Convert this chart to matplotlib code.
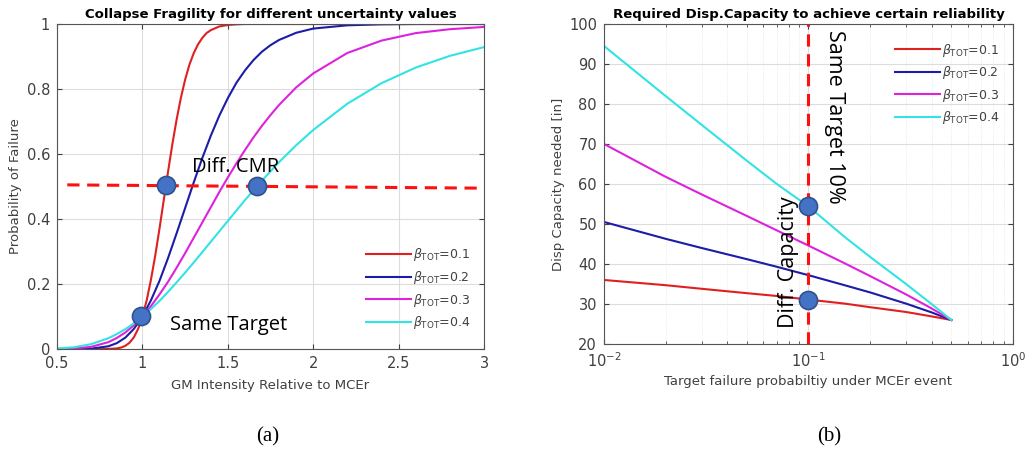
import matplotlib.pyplot as plt
from matplotlib.ticker import LogLocator, NullFormatter

# ---- data (a): collapse fragility ----
gm_red = [0.5, 0.6, 0.7, 0.8, 0.85, 0.875, 0.9, 0.925, 0.95, 0.975, 1.0, 1.025, 1.05, 1.075,
          1.1, 1.125, 1.15, 1.175, 1.2, 1.225, 1.25, 1.275, 1.3, 1.325, 1.35, 1.375, 1.4,
          1.45, 1.5, 1.55, 1.6, 1.8, 2.0, 2.5, 3.0]
pf_01 = [0.0, 0.0, 0.0, 0.0002, 0.0018, 0.0044, 0.0098, 0.0196, 0.036, 0.0624, 0.100, 0.150,
         0.214, 0.288, 0.371, 0.459, 0.546, 0.630, 0.706, 0.773, 0.829, 0.875, 0.910, 0.937,
         0.957, 0.972, 0.981, 0.9925, 0.997, 0.999, 1.0, 1.0, 1.0, 1.0, 1.0]

gm = [0.5, 0.6, 0.7, 0.8, 0.85, 0.9, 0.95, 1.0, 1.05, 1.1, 1.15, 1.2, 1.25, 1.3, 1.35,
      1.4, 1.45, 1.5, 1.55, 1.6, 1.65, 1.7, 1.75, 1.8, 1.9, 2.0, 2.2, 2.4, 2.6, 2.8, 3.0]
pf_02 = [0.0, 0.0001, 0.0011, 0.0083, 0.018, 0.035, 0.062, 0.100, 0.150, 0.210, 0.280, 0.356,
         0.434, 0.512, 0.587, 0.656, 0.718, 0.772, 0.819, 0.857, 0.889, 0.915, 0.935, 0.951,
         0.973, 0.986, 0.996, 0.999, 1.0, 1.0, 1.0]
pf_03 = [0.0002, 0.0014, 0.0067, 0.021, 0.034, 0.051, 0.073, 0.100, 0.132, 0.168, 0.207, 0.250,
         0.295, 0.342, 0.389, 0.436, 0.483, 0.528, 0.571, 0.612, 0.651, 0.687, 0.720, 0.751,
         0.805, 0.848, 0.911, 0.949, 0.972, 0.984, 0.991]
pf_04 = [0.0013, 0.0052, 0.015, 0.033, 0.046, 0.061, 0.079, 0.100, 0.123, 0.148, 0.176, 0.205,
         0.235, 0.266, 0.298, 0.330, 0.362, 0.394, 0.426, 0.458, 0.488, 0.518, 0.547, 0.575,
         0.627, 0.674, 0.755, 0.818, 0.866, 0.902, 0.929]

# ---- data (b): required displacement capacity ----
p_target = [0.01, 0.02, 0.03, 0.05, 0.07, 0.1, 0.15, 0.2, 0.3, 0.4, 0.5]
cap_01 = [36.0, 34.7, 33.8, 32.7, 32.0, 31.1, 30.1, 29.2, 28.0, 26.9, 26.0]
cap_02 = [50.5, 46.3, 44.0, 41.2, 39.3, 37.2, 34.7, 32.9, 30.1, 27.9, 26.0]
cap_03 = [70.0, 61.8, 57.4, 52.0, 48.4, 44.6, 40.2, 37.0, 32.4, 28.9, 26.0]
cap_04 = [94.5, 82.0, 74.8, 65.8, 60.0, 54.4, 46.8, 41.8, 35.0, 30.0, 26.0]

labels = [r'$\beta_{\rm TOT}$=0.1', r'$\beta_{\rm TOT}$=0.2',
          r'$\beta_{\rm TOT}$=0.3', r'$\beta_{\rm TOT}$=0.4']
colors = ['#e02020', '#1c1ca8', '#dd22dd', '#33e3e3']

# annotation points
pts_a_x = [1.135, 1.67, 0.99]
pts_a_y = [0.505, 0.50, 0.102]
pts_b_x = [0.1, 0.1]
pts_b_y = [54.4, 31.0]

tick_col = '#404040'
mk_face = '#4472c4'
mk_edge = '#2f528f'
ann_font = ['Open Sans', 'DejaVu Sans']

fig = plt.figure(figsize=(10.26, 4.68), dpi=100)
ax1 = fig.add_axes([0.0556, 0.2543, 0.4162, 0.6944])
ax2 = fig.add_axes([0.5887, 0.265, 0.3985, 0.6838])

def style(ax):
    ax.tick_params(which='both', direction='in', top=True, right=True,
                   labelsize=10.5, colors=tick_col, labelcolor=tick_col, pad=5)
    for s in ax.spines.values():
        s.set_color('#555555')
        s.set_linewidth(0.8)
    ax.set_axisbelow(True)

# ---- panel (a) ----
ax1.plot(gm_red, pf_01, color=colors[0], lw=1.5, label=labels[0])
for y, c, lab in zip([pf_02, pf_03, pf_04], colors[1:], labels[1:]):
    ax1.plot(gm, y, color=c, lw=1.5, label=lab)
ax1.plot([0.56, 2.96], [0.505, 0.495], color='#ff1010', lw=2.2, ls=(0, (4, 2.5)))
ax1.scatter(pts_a_x, pts_a_y, s=170, color=mk_face, edgecolor=mk_edge, lw=1.2, zorder=5)
ax1.text(1.29, 0.545, 'Diff. CMR', fontsize=14.5, family=ann_font)
ax1.text(1.16, 0.058, 'Same Target', fontsize=14.5, family=ann_font)
ax1.set_xlim(0.5, 3)
ax1.set_ylim(0, 1)
ax1.set_xticks([0.5, 1, 1.5, 2, 2.5, 3])
ax1.set_xticklabels(['0.5', '1', '1.5', '2', '2.5', '3'])
ax1.set_yticks([0, 0.2, 0.4, 0.6, 0.8, 1])
ax1.set_yticklabels(['0', '0.2', '0.4', '0.6', '0.8', '1'])
ax1.grid(True, color='#dddddd', lw=0.8)
style(ax1)
ax1.set_title('Collapse Fragility for different uncertainty values',
              fontsize=9.5, fontweight='bold', pad=4)
ax1.set_xlabel('GM Intensity Relative to MCEr', fontsize=9.5, color=tick_col, labelpad=6)
ax1.set_ylabel('Probability of Failure', fontsize=9.5, color=tick_col, labelpad=3)
ax1.legend(loc='lower right', bbox_to_anchor=(0.995, 0.02), frameon=False, fontsize=9,
           handlelength=3.6, labelspacing=0.45, handletextpad=0.2,
           labelcolor=tick_col)

# ---- panel (b) ----
for y, c, lab in zip([cap_01, cap_02, cap_03, cap_04], colors, labels):
    ax2.plot(p_target, y, color=c, lw=1.5, label=lab)
ax2.set_xscale('log')
ax2.plot([0.1, 0.1], [20, 100], color='#ff1010', lw=2.2, ls=(0, (4, 2.5)), zorder=4)
ax2.scatter(pts_b_x, pts_b_y, s=170, color=mk_face, edgecolor=mk_edge, lw=1.2, zorder=5)
ax2.text(0.119, 98.5, 'Same Target 10%', fontsize=15.5, family=ann_font, rotation=270,
         ha='left', va='top')
ax2.text(0.08, 24.0, 'Diff. Capacity', fontsize=15.5, family=ann_font, rotation=90,
         ha='center', va='bottom')
ax2.set_xlim(0.01, 1)
ax2.set_ylim(20, 100)
ax2.set_yticks(range(20, 101, 10))
ax2.xaxis.set_major_locator(LogLocator(base=10, numticks=5))
ax2.xaxis.set_minor_locator(LogLocator(base=10, subs=range(2, 10), numticks=20))
ax2.xaxis.set_minor_formatter(NullFormatter())
ax2.grid(True, which='major', color='#dddddd', lw=0.8)
ax2.grid(True, which='minor', axis='x', color='#e4e4e4', lw=0.6, ls=':')
style(ax2)
ax2.set_title('Required Disp.Capacity to achieve certain reliability',
              fontsize=9.5, fontweight='bold', pad=4)
ax2.set_xlabel('Target failure probabiltiy under MCEr event', fontsize=9.5,
               color=tick_col, labelpad=4)
ax2.set_ylabel('Disp Capacity needed [in]', fontsize=9.5, color=tick_col, labelpad=3)
ax2.legend(loc='upper right', bbox_to_anchor=(0.995, 0.98), frameon=False, fontsize=9,
           handlelength=3.6, labelspacing=0.45, handletextpad=0.2,
           labelcolor=tick_col)

fig.text(268 / 1026, 1 - 437 / 468, '(a)', fontsize=15, family='Liberation Serif',
         ha='center', va='center')
fig.text(829 / 1026, 1 - 437 / 468, '(b)', fontsize=15, family='Liberation Serif',
         ha='center', va='center')

fig.savefig('out.png', dpi=100)
